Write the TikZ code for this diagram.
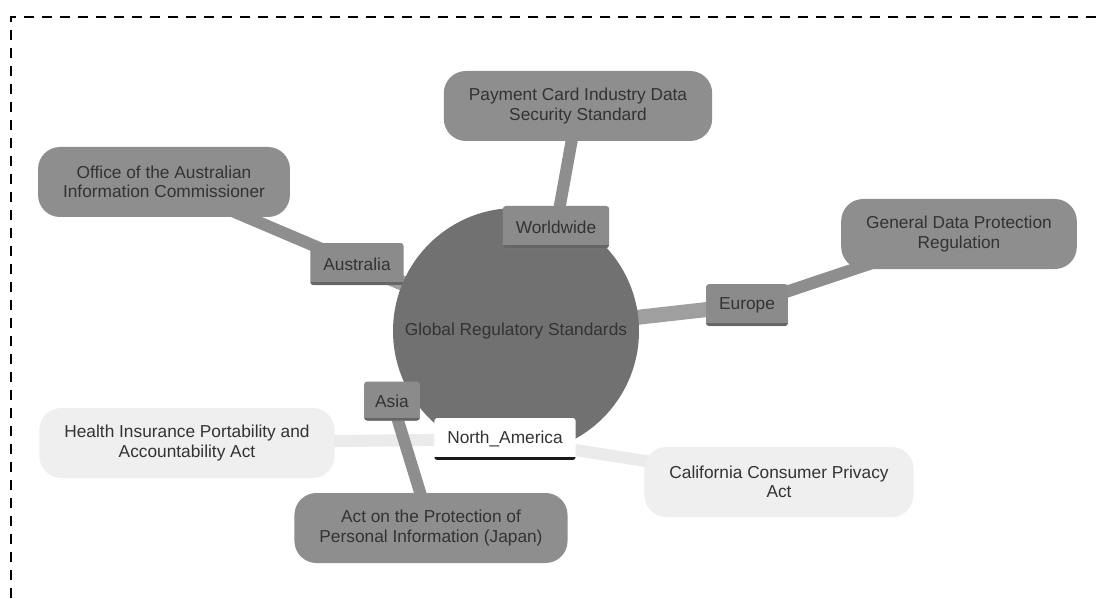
\documentclass[tikz,border=0pt]{standalone}
\usepackage{fontspec}
\setmainfont{Liberation Sans}
\usepackage{tikz}
\usetikzlibrary{calc}

\definecolor{hubfill}{HTML}{717171}
\definecolor{leaffill}{HTML}{8E8E8E}
\definecolor{tagfill}{HTML}{8B8B8B}
\definecolor{tagbar}{HTML}{666666}
\definecolor{palefill}{HTML}{EFEFEF}
\definecolor{paleline}{HTML}{EBEBEB}
\definecolor{darkline}{HTML}{8E8E8E}
\definecolor{inkgray}{HTML}{333333}

\tikzset{
  txt/.style={font=\fontsize{17.3}{19.5}\selectfont, text=inkgray, align=center},
  hubnode/.style={txt, circle, fill=hubfill, minimum size=246pt, inner sep=0pt},
  leafbox/.style={txt, rounded corners=22pt, fill=leaffill, inner xsep=25pt, minimum height=70pt},
  palebox/.style={leafbox, fill=palefill},
  tagbox/.style={txt, rounded corners=3pt, fill=tagfill, inner xsep=13pt, minimum height=42pt,
    path picture={\fill[tagbar, sharp corners] ([yshift=3pt]path picture bounding box.south west) rectangle (path picture bounding box.south east);}},
  whitetag/.style={tagbox, fill=white, path picture={\fill[black!90, sharp corners] ([yshift=3pt]path picture bounding box.south west) rectangle (path picture bounding box.south east);}},
  hublink/.style={line width=15pt, draw=#1},
  leaflink/.style={line width=12pt, draw=#1}
}

\begin{document}
\begin{tikzpicture}[x=1pt,y=-1pt]
  \useasboundingbox (0,0) rectangle (1096,599);
  \fill[white] (0,0) rectangle (1096,599);
  \draw[line width=2.8pt, dash pattern=on 10pt off 8pt] (11,1120) -- (11,17) -- (1120,17);

  % anchors of nodes, so links can be drawn first
  \coordinate (c-hub) at (516,331);
  \coordinate (c-wor) at (556,227);
  \coordinate (c-aus) at (357,264);
  \coordinate (c-eur) at (747,305);
  \coordinate (c-asi) at (392,401);
  \coordinate (c-nam) at (505,439);
  \coordinate (c-pci) at (578,106);
  \coordinate (c-oaic) at (164,182);
  \coordinate (c-gdpr) at (959,234);
  \coordinate (c-appi) at (431,528);
  \coordinate (c-hipaa) at (187,443);
  \coordinate (c-ccpa) at (779,482);

  % links
  \draw[hublink=paleline] (c-hub) -- (c-nam);
  \draw[leaflink=paleline] (c-nam) -- (c-hipaa);
  \draw[leaflink=paleline] (c-nam) -- (c-ccpa);
  \foreach \r/\l in {wor/pci, aus/oaic, eur/gdpr, asi/appi}{
    \draw[hublink=darkline!85!white] (c-hub) -- (c-\r);
    \draw[leaflink=darkline] (c-\r) -- (c-\l);
  }

  % hub
  \node[hubnode] (hub) at (c-hub) {Global Regulatory Standards};

  % regions
  \node[tagbox] (wor) at (c-wor) {Worldwide};
  \node[tagbox] (aus) at (c-aus) {Australia};
  \node[tagbox] (eur) at (c-eur) {Europe};
  \node[tagbox, inner xsep=11pt, minimum height=39pt] (asi) at (c-asi) {Asia};
  \node[whitetag] (nam) at (c-nam) {North\_America};

  % standards
  \node[leafbox] (pci) at (c-pci) {Payment Card Industry Data\\Security Standard};
  \node[leafbox] (oaic) at (c-oaic) {Office of the Australian\\Information Commissioner};
  \node[leafbox] (gdpr) at (c-gdpr) {General Data Protection\\Regulation};
  \node[leafbox] (appi) at (c-appi) {Act on the Protection of\\Personal Information (Japan)};
  \node[palebox] (hipaa) at (c-hipaa) {Health Insurance Portability and\\Accountability Act};
  \node[palebox] (ccpa) at (c-ccpa) {California Consumer Privacy\\Act};
\end{tikzpicture}
\end{document}
